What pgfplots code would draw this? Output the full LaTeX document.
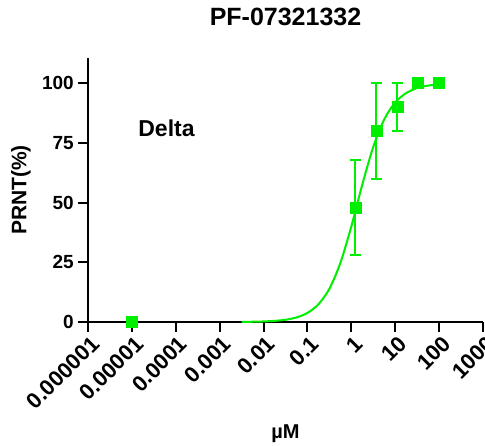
\documentclass[border=0pt]{standalone}
\usepackage{pgfplots}
\pgfplotsset{compat=1.18}
\usepackage{fontspec}
\setmainfont{Liberation Sans}
\definecolor{curvegreen}{RGB}{0,238,0}
\begin{document}
\begin{tikzpicture}
\begin{axis}[
  at={(0,0)}, anchor=south west,
  scale only axis, width=395bp, height=264bp,
  xmode=log, log basis x=10,
  xmin=1e-6, xmax=1000, ymin=0, ymax=110.5,
  axis x line*=bottom, axis y line*=left,
  axis line style={line width=2bp, black, -},
  every tick/.style={line width=2bp, black},
  tick align=outside, major tick length=10bp,
  xminorticks=false, yminorticks=false,
  xtick={1e-6,1e-5,1e-4,1e-3,1e-2,1e-1,1,10,100,1000},
  xticklabels={0.000001,0.00001,0.0001,0.001,0.01,0.1,1,10,100,1000},
  ytick={0,25,50,75,100},
  /pgf/number format/assume math mode=true,
  y tick label style={font=\fontsize{19bp}{22bp}\selectfont\bfseries, inner sep=4bp},
  x tick label style={font=\fontsize{22bp}{26bp}\selectfont\bfseries, xshift=2bp, yshift=-1bp, rotate=45, anchor=north east, inner sep=1bp},
  clip=false,
]
\addplot[curvegreen, line width=2bp, no marks, smooth] coordinates {
 (0.00316,0.06) (0.00562,0.11) (0.01,0.23) (0.01778,0.47) (0.03162,0.94)
 (0.05623,1.9) (0.1,3.8) (0.1778,7.4) (0.3162,13.9) (0.5623,24.7)
 (1,40.0) (1.778,57.5) (3.162,73.3) (5.623,84.8) (10,91.9)
 (17.78,95.8) (31.62,97.9) (56.23,98.95) (100,99.5)
};
\addplot[curvegreen, only marks, mark=square*, mark size=5.5bp,
  error bars/.cd, y dir=both, y explicit,
  error bar style={line width=2bp, curvegreen},
  error mark options={rotate=90, mark size=5.5bp, line width=2bp, curvegreen}]
coordinates {
 (0.00001,0) +- (0,0)
 (1.235,48) +- (0,20)
 (3.704,80) +- (0,20)
 (11.11,90) +- (0,10)
 (33.33,100) +- (0,0)
 (100,100) +- (0,0)
};
\end{axis}
\node[font=\fontsize{25bp}{30bp}\selectfont\bfseries, anchor=base] at (197.5bp,296bp) {PF-07321332};
\node[font=\fontsize{23bp}{28bp}\selectfont\bfseries] at (78.5bp,194bp) {Delta};
\node[font=\fontsize{21bp}{25bp}\selectfont\bfseries, rotate=90] at (-67bp,132bp) {PRNT(\%)};
\node[font=\fontsize{20bp}{24bp}\selectfont\bfseries, anchor=base] at (197.5bp,-116bp) {µM};
\pgfresetboundingbox
\path[use as bounding box] (-88bp,-124bp) rectangle (397bp,322bp);
\end{tikzpicture}
\end{document}
